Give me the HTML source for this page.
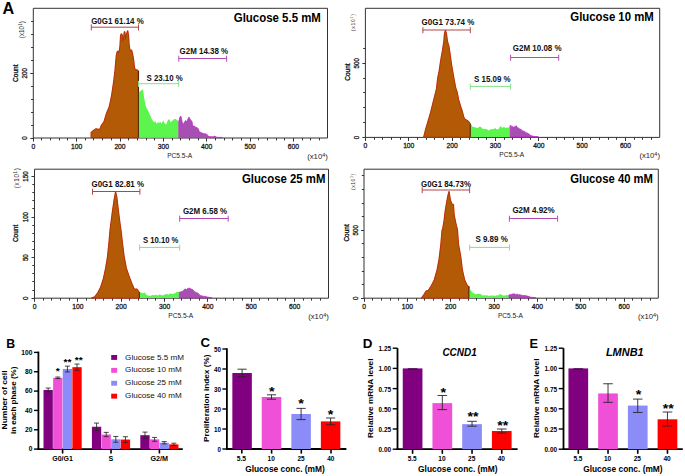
<!DOCTYPE html>
<html><head><meta charset="utf-8"><style>
html,body{margin:0;padding:0;background:#fff;}
svg{display:block;font-family:"Liberation Sans", sans-serif;}
</style></head><body>
<svg width="685" height="476" viewBox="0 0 685 476">
<rect width="685" height="476" fill="#fff"/>
<path d="M33.3,138 L33.3,8.3 L327.5,8.3 L327.5,138 Z" fill="none" stroke="#333" stroke-width="1"/>
<line x1="33.5" y1="138" x2="33.5" y2="141.6" stroke="#333" stroke-width="1" />
<text x="33.3" y="149" font-size="7" font-weight="normal" text-anchor="middle" fill="#1a1a1a" stroke="#1a1a1a" stroke-width="0.3" textLength="3.75" lengthAdjust="spacingAndGlyphs">0</text>
<line x1="41.5" y1="138" x2="41.5" y2="140.4" stroke="#333" stroke-width="1" />
<line x1="50.5" y1="138" x2="50.5" y2="140.4" stroke="#333" stroke-width="1" />
<line x1="59.5" y1="138" x2="59.5" y2="140.4" stroke="#333" stroke-width="1" />
<line x1="67.5" y1="138" x2="67.5" y2="140.4" stroke="#333" stroke-width="1" />
<line x1="76.5" y1="138" x2="76.5" y2="141.6" stroke="#333" stroke-width="1" />
<text x="76.65" y="149" font-size="7" font-weight="normal" text-anchor="middle" fill="#1a1a1a" stroke="#1a1a1a" stroke-width="0.3" textLength="11.25" lengthAdjust="spacingAndGlyphs">100</text>
<line x1="85.5" y1="138" x2="85.5" y2="140.4" stroke="#333" stroke-width="1" />
<line x1="93.5" y1="138" x2="93.5" y2="140.4" stroke="#333" stroke-width="1" />
<line x1="102.5" y1="138" x2="102.5" y2="140.4" stroke="#333" stroke-width="1" />
<line x1="111.5" y1="138" x2="111.5" y2="140.4" stroke="#333" stroke-width="1" />
<line x1="120.5" y1="138" x2="120.5" y2="141.6" stroke="#333" stroke-width="1" />
<text x="120" y="149" font-size="7" font-weight="normal" text-anchor="middle" fill="#1a1a1a" stroke="#1a1a1a" stroke-width="0.3" textLength="11.25" lengthAdjust="spacingAndGlyphs">200</text>
<line x1="128.5" y1="138" x2="128.5" y2="140.4" stroke="#333" stroke-width="1" />
<line x1="137.5" y1="138" x2="137.5" y2="140.4" stroke="#333" stroke-width="1" />
<line x1="146.5" y1="138" x2="146.5" y2="140.4" stroke="#333" stroke-width="1" />
<line x1="154.5" y1="138" x2="154.5" y2="140.4" stroke="#333" stroke-width="1" />
<line x1="163.5" y1="138" x2="163.5" y2="141.6" stroke="#333" stroke-width="1" />
<text x="163.35" y="149" font-size="7" font-weight="normal" text-anchor="middle" fill="#1a1a1a" stroke="#1a1a1a" stroke-width="0.3" textLength="11.25" lengthAdjust="spacingAndGlyphs">300</text>
<line x1="172.5" y1="138" x2="172.5" y2="140.4" stroke="#333" stroke-width="1" />
<line x1="180.5" y1="138" x2="180.5" y2="140.4" stroke="#333" stroke-width="1" />
<line x1="189.5" y1="138" x2="189.5" y2="140.4" stroke="#333" stroke-width="1" />
<line x1="198.5" y1="138" x2="198.5" y2="140.4" stroke="#333" stroke-width="1" />
<line x1="206.5" y1="138" x2="206.5" y2="141.6" stroke="#333" stroke-width="1" />
<text x="206.7" y="149" font-size="7" font-weight="normal" text-anchor="middle" fill="#1a1a1a" stroke="#1a1a1a" stroke-width="0.3" textLength="11.25" lengthAdjust="spacingAndGlyphs">400</text>
<line x1="215.5" y1="138" x2="215.5" y2="140.4" stroke="#333" stroke-width="1" />
<line x1="224.5" y1="138" x2="224.5" y2="140.4" stroke="#333" stroke-width="1" />
<line x1="232.5" y1="138" x2="232.5" y2="140.4" stroke="#333" stroke-width="1" />
<line x1="241.5" y1="138" x2="241.5" y2="140.4" stroke="#333" stroke-width="1" />
<line x1="250.5" y1="138" x2="250.5" y2="141.6" stroke="#333" stroke-width="1" />
<text x="250.05" y="149" font-size="7" font-weight="normal" text-anchor="middle" fill="#1a1a1a" stroke="#1a1a1a" stroke-width="0.3" textLength="11.25" lengthAdjust="spacingAndGlyphs">500</text>
<line x1="258.5" y1="138" x2="258.5" y2="140.4" stroke="#333" stroke-width="1" />
<line x1="267.5" y1="138" x2="267.5" y2="140.4" stroke="#333" stroke-width="1" />
<line x1="276.5" y1="138" x2="276.5" y2="140.4" stroke="#333" stroke-width="1" />
<line x1="284.5" y1="138" x2="284.5" y2="140.4" stroke="#333" stroke-width="1" />
<line x1="293.5" y1="138" x2="293.5" y2="141.6" stroke="#333" stroke-width="1" />
<text x="293.4" y="149" font-size="7" font-weight="normal" text-anchor="middle" fill="#1a1a1a" stroke="#1a1a1a" stroke-width="0.3" textLength="11.25" lengthAdjust="spacingAndGlyphs">600</text>
<line x1="302.5" y1="138" x2="302.5" y2="140.4" stroke="#333" stroke-width="1" />
<line x1="310.5" y1="138" x2="310.5" y2="140.4" stroke="#333" stroke-width="1" />
<line x1="319.5" y1="138" x2="319.5" y2="140.4" stroke="#333" stroke-width="1" />
<line x1="30.3" y1="138.5" x2="33.3" y2="138.5" stroke="#333" stroke-width="1" />
<text x="27.1" y="138" font-size="7" font-weight="normal" text-anchor="middle" fill="#1a1a1a" stroke="#1a1a1a" stroke-width="0.3" transform="rotate(-90 27.1 138)" textLength="3.45" lengthAdjust="spacingAndGlyphs">0</text>
<line x1="31.1" y1="125.5" x2="33.3" y2="125.5" stroke="#333" stroke-width="1" />
<line x1="31.1" y1="112.5" x2="33.3" y2="112.5" stroke="#333" stroke-width="1" />
<line x1="31.1" y1="99.5" x2="33.3" y2="99.5" stroke="#333" stroke-width="1" />
<line x1="31.1" y1="86.5" x2="33.3" y2="86.5" stroke="#333" stroke-width="1" />
<line x1="30.3" y1="73.5" x2="33.3" y2="73.5" stroke="#333" stroke-width="1" />
<text x="27.1" y="73.2" font-size="7" font-weight="normal" text-anchor="middle" fill="#1a1a1a" stroke="#1a1a1a" stroke-width="0.3" transform="rotate(-90 27.1 73.2)" textLength="10.35" lengthAdjust="spacingAndGlyphs">200</text>
<line x1="31.1" y1="60.5" x2="33.3" y2="60.5" stroke="#333" stroke-width="1" />
<line x1="31.1" y1="47.5" x2="33.3" y2="47.5" stroke="#333" stroke-width="1" />
<line x1="31.1" y1="34.5" x2="33.3" y2="34.5" stroke="#333" stroke-width="1" />
<line x1="31.1" y1="21.5" x2="33.3" y2="21.5" stroke="#333" stroke-width="1" />
<text x="179.6" y="157.5" font-size="6.6" font-weight="normal" text-anchor="middle" fill="#222">PC5.5-A</text>
<text x="327.8" y="158.8" font-size="6.4" font-weight="normal" text-anchor="end" fill="#222" textLength="20.6" lengthAdjust="spacingAndGlyphs">(x10<tspan dy="-2.2" font-size="4.5">4</tspan><tspan dy="2.2">)</tspan></text>
<text x="18.1" y="73.2" font-size="7.3" font-weight="normal" text-anchor="middle" fill="#111" stroke="#111" stroke-width="0.3" transform="rotate(-90 18.1 73.2)" textLength="17.4" lengthAdjust="spacingAndGlyphs">Count</text>
<text x="24.2" y="29.7" font-size="6.3" font-weight="normal" text-anchor="middle" fill="#333" transform="rotate(-90 24.2 29.7)" textLength="17" lengthAdjust="spacing">(x10<tspan dy="-2.2" font-size="4.5">1</tspan><tspan dy="2.2">)</tspan></text>
<text x="320.9" y="21.9" font-size="12" font-weight="bold" text-anchor="end" fill="#000" textLength="87.1" lengthAdjust="spacingAndGlyphs">Glucose 5.5 mM</text>
<path d="M365.4,137.4 L365.4,8.3 L659.7,8.3 L659.7,137.4 Z" fill="none" stroke="#333" stroke-width="1"/>
<line x1="365.5" y1="137.4" x2="365.5" y2="141" stroke="#333" stroke-width="1" />
<text x="365.4" y="148.4" font-size="7" font-weight="normal" text-anchor="middle" fill="#1a1a1a" stroke="#1a1a1a" stroke-width="0.3" textLength="3.75" lengthAdjust="spacingAndGlyphs">0</text>
<line x1="374.5" y1="137.4" x2="374.5" y2="139.8" stroke="#333" stroke-width="1" />
<line x1="382.5" y1="137.4" x2="382.5" y2="139.8" stroke="#333" stroke-width="1" />
<line x1="391.5" y1="137.4" x2="391.5" y2="139.8" stroke="#333" stroke-width="1" />
<line x1="400.5" y1="137.4" x2="400.5" y2="139.8" stroke="#333" stroke-width="1" />
<line x1="408.5" y1="137.4" x2="408.5" y2="141" stroke="#333" stroke-width="1" />
<text x="408.75" y="148.4" font-size="7" font-weight="normal" text-anchor="middle" fill="#1a1a1a" stroke="#1a1a1a" stroke-width="0.3" textLength="11.25" lengthAdjust="spacingAndGlyphs">100</text>
<line x1="417.5" y1="137.4" x2="417.5" y2="139.8" stroke="#333" stroke-width="1" />
<line x1="426.5" y1="137.4" x2="426.5" y2="139.8" stroke="#333" stroke-width="1" />
<line x1="434.5" y1="137.4" x2="434.5" y2="139.8" stroke="#333" stroke-width="1" />
<line x1="443.5" y1="137.4" x2="443.5" y2="139.8" stroke="#333" stroke-width="1" />
<line x1="452.5" y1="137.4" x2="452.5" y2="141" stroke="#333" stroke-width="1" />
<text x="452.1" y="148.4" font-size="7" font-weight="normal" text-anchor="middle" fill="#1a1a1a" stroke="#1a1a1a" stroke-width="0.3" textLength="11.25" lengthAdjust="spacingAndGlyphs">200</text>
<line x1="460.5" y1="137.4" x2="460.5" y2="139.8" stroke="#333" stroke-width="1" />
<line x1="469.5" y1="137.4" x2="469.5" y2="139.8" stroke="#333" stroke-width="1" />
<line x1="478.5" y1="137.4" x2="478.5" y2="139.8" stroke="#333" stroke-width="1" />
<line x1="486.5" y1="137.4" x2="486.5" y2="139.8" stroke="#333" stroke-width="1" />
<line x1="495.5" y1="137.4" x2="495.5" y2="141" stroke="#333" stroke-width="1" />
<text x="495.45" y="148.4" font-size="7" font-weight="normal" text-anchor="middle" fill="#1a1a1a" stroke="#1a1a1a" stroke-width="0.3" textLength="11.25" lengthAdjust="spacingAndGlyphs">300</text>
<line x1="504.5" y1="137.4" x2="504.5" y2="139.8" stroke="#333" stroke-width="1" />
<line x1="512.5" y1="137.4" x2="512.5" y2="139.8" stroke="#333" stroke-width="1" />
<line x1="521.5" y1="137.4" x2="521.5" y2="139.8" stroke="#333" stroke-width="1" />
<line x1="530.5" y1="137.4" x2="530.5" y2="139.8" stroke="#333" stroke-width="1" />
<line x1="538.5" y1="137.4" x2="538.5" y2="141" stroke="#333" stroke-width="1" />
<text x="538.8" y="148.4" font-size="7" font-weight="normal" text-anchor="middle" fill="#1a1a1a" stroke="#1a1a1a" stroke-width="0.3" textLength="11.25" lengthAdjust="spacingAndGlyphs">400</text>
<line x1="547.5" y1="137.4" x2="547.5" y2="139.8" stroke="#333" stroke-width="1" />
<line x1="556.5" y1="137.4" x2="556.5" y2="139.8" stroke="#333" stroke-width="1" />
<line x1="564.5" y1="137.4" x2="564.5" y2="139.8" stroke="#333" stroke-width="1" />
<line x1="573.5" y1="137.4" x2="573.5" y2="139.8" stroke="#333" stroke-width="1" />
<line x1="582.5" y1="137.4" x2="582.5" y2="141" stroke="#333" stroke-width="1" />
<text x="582.15" y="148.4" font-size="7" font-weight="normal" text-anchor="middle" fill="#1a1a1a" stroke="#1a1a1a" stroke-width="0.3" textLength="11.25" lengthAdjust="spacingAndGlyphs">500</text>
<line x1="590.5" y1="137.4" x2="590.5" y2="139.8" stroke="#333" stroke-width="1" />
<line x1="599.5" y1="137.4" x2="599.5" y2="139.8" stroke="#333" stroke-width="1" />
<line x1="608.5" y1="137.4" x2="608.5" y2="139.8" stroke="#333" stroke-width="1" />
<line x1="616.5" y1="137.4" x2="616.5" y2="139.8" stroke="#333" stroke-width="1" />
<line x1="625.5" y1="137.4" x2="625.5" y2="141" stroke="#333" stroke-width="1" />
<text x="625.5" y="148.4" font-size="7" font-weight="normal" text-anchor="middle" fill="#1a1a1a" stroke="#1a1a1a" stroke-width="0.3" textLength="11.25" lengthAdjust="spacingAndGlyphs">600</text>
<line x1="634.5" y1="137.4" x2="634.5" y2="139.8" stroke="#333" stroke-width="1" />
<line x1="642.5" y1="137.4" x2="642.5" y2="139.8" stroke="#333" stroke-width="1" />
<line x1="651.5" y1="137.4" x2="651.5" y2="139.8" stroke="#333" stroke-width="1" />
<line x1="362.4" y1="137.5" x2="365.4" y2="137.5" stroke="#333" stroke-width="1" />
<text x="358.7" y="137.4" font-size="7" font-weight="normal" text-anchor="middle" fill="#1a1a1a" stroke="#1a1a1a" stroke-width="0.3" transform="rotate(-90 358.7 137.4)" textLength="3.45" lengthAdjust="spacingAndGlyphs">0</text>
<line x1="363.2" y1="122.5" x2="365.4" y2="122.5" stroke="#333" stroke-width="1" />
<line x1="363.2" y1="107.5" x2="365.4" y2="107.5" stroke="#333" stroke-width="1" />
<line x1="363.2" y1="92.5" x2="365.4" y2="92.5" stroke="#333" stroke-width="1" />
<line x1="363.2" y1="78.5" x2="365.4" y2="78.5" stroke="#333" stroke-width="1" />
<line x1="362.4" y1="63.5" x2="365.4" y2="63.5" stroke="#333" stroke-width="1" />
<text x="358.7" y="63.3" font-size="7" font-weight="normal" text-anchor="middle" fill="#1a1a1a" stroke="#1a1a1a" stroke-width="0.3" transform="rotate(-90 358.7 63.3)" textLength="10.35" lengthAdjust="spacingAndGlyphs">500</text>
<line x1="363.2" y1="48.5" x2="365.4" y2="48.5" stroke="#333" stroke-width="1" />
<text x="511.75" y="156.9" font-size="6.6" font-weight="normal" text-anchor="middle" fill="#222">PC5.5-A</text>
<text x="660" y="158.2" font-size="6.4" font-weight="normal" text-anchor="end" fill="#222" textLength="20.6" lengthAdjust="spacingAndGlyphs">(x10<tspan dy="-2.2" font-size="4.5">4</tspan><tspan dy="2.2">)</tspan></text>
<text x="350.2" y="72.1" font-size="7.3" font-weight="normal" text-anchor="middle" fill="#111" stroke="#111" stroke-width="0.3" transform="rotate(-90 350.2 72.1)" textLength="17.4" lengthAdjust="spacingAndGlyphs">Count</text>
<text x="355.3" y="22.6" font-size="5" font-weight="normal" text-anchor="middle" fill="#333" transform="rotate(-90 355.3 22.6)" textLength="17.2" lengthAdjust="spacing">(x10<tspan dy="-2.2" font-size="3.6">1</tspan><tspan dy="2.2">)</tspan></text>
<text x="653.8" y="21.4" font-size="12" font-weight="bold" text-anchor="end" fill="#000" textLength="83.5" lengthAdjust="spacingAndGlyphs">Glucose 10 mM</text>
<path d="M34.5,298.2 L34.5,169.2 L328.5,169.2 L328.5,298.2 Z" fill="none" stroke="#333" stroke-width="1"/>
<line x1="34.5" y1="298.2" x2="34.5" y2="301.8" stroke="#333" stroke-width="1" />
<text x="34.5" y="309.2" font-size="7" font-weight="normal" text-anchor="middle" fill="#1a1a1a" stroke="#1a1a1a" stroke-width="0.3" textLength="3.75" lengthAdjust="spacingAndGlyphs">0</text>
<line x1="43.5" y1="298.2" x2="43.5" y2="300.6" stroke="#333" stroke-width="1" />
<line x1="51.5" y1="298.2" x2="51.5" y2="300.6" stroke="#333" stroke-width="1" />
<line x1="60.5" y1="298.2" x2="60.5" y2="300.6" stroke="#333" stroke-width="1" />
<line x1="69.5" y1="298.2" x2="69.5" y2="300.6" stroke="#333" stroke-width="1" />
<line x1="77.5" y1="298.2" x2="77.5" y2="301.8" stroke="#333" stroke-width="1" />
<text x="77.85" y="309.2" font-size="7" font-weight="normal" text-anchor="middle" fill="#1a1a1a" stroke="#1a1a1a" stroke-width="0.3" textLength="11.25" lengthAdjust="spacingAndGlyphs">100</text>
<line x1="86.5" y1="298.2" x2="86.5" y2="300.6" stroke="#333" stroke-width="1" />
<line x1="95.5" y1="298.2" x2="95.5" y2="300.6" stroke="#333" stroke-width="1" />
<line x1="103.5" y1="298.2" x2="103.5" y2="300.6" stroke="#333" stroke-width="1" />
<line x1="112.5" y1="298.2" x2="112.5" y2="300.6" stroke="#333" stroke-width="1" />
<line x1="121.5" y1="298.2" x2="121.5" y2="301.8" stroke="#333" stroke-width="1" />
<text x="121.2" y="309.2" font-size="7" font-weight="normal" text-anchor="middle" fill="#1a1a1a" stroke="#1a1a1a" stroke-width="0.3" textLength="11.25" lengthAdjust="spacingAndGlyphs">200</text>
<line x1="129.5" y1="298.2" x2="129.5" y2="300.6" stroke="#333" stroke-width="1" />
<line x1="138.5" y1="298.2" x2="138.5" y2="300.6" stroke="#333" stroke-width="1" />
<line x1="147.5" y1="298.2" x2="147.5" y2="300.6" stroke="#333" stroke-width="1" />
<line x1="155.5" y1="298.2" x2="155.5" y2="300.6" stroke="#333" stroke-width="1" />
<line x1="164.5" y1="298.2" x2="164.5" y2="301.8" stroke="#333" stroke-width="1" />
<text x="164.55" y="309.2" font-size="7" font-weight="normal" text-anchor="middle" fill="#1a1a1a" stroke="#1a1a1a" stroke-width="0.3" textLength="11.25" lengthAdjust="spacingAndGlyphs">300</text>
<line x1="173.5" y1="298.2" x2="173.5" y2="300.6" stroke="#333" stroke-width="1" />
<line x1="181.5" y1="298.2" x2="181.5" y2="300.6" stroke="#333" stroke-width="1" />
<line x1="190.5" y1="298.2" x2="190.5" y2="300.6" stroke="#333" stroke-width="1" />
<line x1="199.5" y1="298.2" x2="199.5" y2="300.6" stroke="#333" stroke-width="1" />
<line x1="207.5" y1="298.2" x2="207.5" y2="301.8" stroke="#333" stroke-width="1" />
<text x="207.9" y="309.2" font-size="7" font-weight="normal" text-anchor="middle" fill="#1a1a1a" stroke="#1a1a1a" stroke-width="0.3" textLength="11.25" lengthAdjust="spacingAndGlyphs">400</text>
<line x1="216.5" y1="298.2" x2="216.5" y2="300.6" stroke="#333" stroke-width="1" />
<line x1="225.5" y1="298.2" x2="225.5" y2="300.6" stroke="#333" stroke-width="1" />
<line x1="233.5" y1="298.2" x2="233.5" y2="300.6" stroke="#333" stroke-width="1" />
<line x1="242.5" y1="298.2" x2="242.5" y2="300.6" stroke="#333" stroke-width="1" />
<line x1="251.5" y1="298.2" x2="251.5" y2="301.8" stroke="#333" stroke-width="1" />
<text x="251.25" y="309.2" font-size="7" font-weight="normal" text-anchor="middle" fill="#1a1a1a" stroke="#1a1a1a" stroke-width="0.3" textLength="11.25" lengthAdjust="spacingAndGlyphs">500</text>
<line x1="259.5" y1="298.2" x2="259.5" y2="300.6" stroke="#333" stroke-width="1" />
<line x1="268.5" y1="298.2" x2="268.5" y2="300.6" stroke="#333" stroke-width="1" />
<line x1="277.5" y1="298.2" x2="277.5" y2="300.6" stroke="#333" stroke-width="1" />
<line x1="285.5" y1="298.2" x2="285.5" y2="300.6" stroke="#333" stroke-width="1" />
<line x1="294.5" y1="298.2" x2="294.5" y2="301.8" stroke="#333" stroke-width="1" />
<text x="294.6" y="309.2" font-size="7" font-weight="normal" text-anchor="middle" fill="#1a1a1a" stroke="#1a1a1a" stroke-width="0.3" textLength="11.25" lengthAdjust="spacingAndGlyphs">600</text>
<line x1="303.5" y1="298.2" x2="303.5" y2="300.6" stroke="#333" stroke-width="1" />
<line x1="311.5" y1="298.2" x2="311.5" y2="300.6" stroke="#333" stroke-width="1" />
<line x1="320.5" y1="298.2" x2="320.5" y2="300.6" stroke="#333" stroke-width="1" />
<line x1="31.5" y1="298.5" x2="34.5" y2="298.5" stroke="#333" stroke-width="1" />
<text x="28" y="298.2" font-size="7" font-weight="normal" text-anchor="middle" fill="#1a1a1a" stroke="#1a1a1a" stroke-width="0.3" transform="rotate(-90 28 298.2)" textLength="3.45" lengthAdjust="spacingAndGlyphs">0</text>
<line x1="32.3" y1="290.5" x2="34.5" y2="290.5" stroke="#333" stroke-width="1" />
<line x1="32.3" y1="281.5" x2="34.5" y2="281.5" stroke="#333" stroke-width="1" />
<line x1="32.3" y1="273.5" x2="34.5" y2="273.5" stroke="#333" stroke-width="1" />
<line x1="32.3" y1="265.5" x2="34.5" y2="265.5" stroke="#333" stroke-width="1" />
<line x1="31.5" y1="257.5" x2="34.5" y2="257.5" stroke="#333" stroke-width="1" />
<text x="28" y="257.65" font-size="7" font-weight="normal" text-anchor="middle" fill="#1a1a1a" stroke="#1a1a1a" stroke-width="0.3" transform="rotate(-90 28 257.65)" textLength="6.9" lengthAdjust="spacingAndGlyphs">50</text>
<line x1="32.3" y1="249.5" x2="34.5" y2="249.5" stroke="#333" stroke-width="1" />
<line x1="32.3" y1="241.5" x2="34.5" y2="241.5" stroke="#333" stroke-width="1" />
<line x1="32.3" y1="233.5" x2="34.5" y2="233.5" stroke="#333" stroke-width="1" />
<line x1="32.3" y1="225.5" x2="34.5" y2="225.5" stroke="#333" stroke-width="1" />
<line x1="31.5" y1="217.5" x2="34.5" y2="217.5" stroke="#333" stroke-width="1" />
<text x="28" y="217.1" font-size="7" font-weight="normal" text-anchor="middle" fill="#1a1a1a" stroke="#1a1a1a" stroke-width="0.3" transform="rotate(-90 28 217.1)" textLength="10.35" lengthAdjust="spacingAndGlyphs">100</text>
<line x1="32.3" y1="208.5" x2="34.5" y2="208.5" stroke="#333" stroke-width="1" />
<line x1="32.3" y1="200.5" x2="34.5" y2="200.5" stroke="#333" stroke-width="1" />
<line x1="32.3" y1="192.5" x2="34.5" y2="192.5" stroke="#333" stroke-width="1" />
<line x1="32.3" y1="184.5" x2="34.5" y2="184.5" stroke="#333" stroke-width="1" />
<line x1="31.5" y1="176.5" x2="34.5" y2="176.5" stroke="#333" stroke-width="1" />
<text x="28" y="176.55" font-size="7" font-weight="normal" text-anchor="middle" fill="#1a1a1a" stroke="#1a1a1a" stroke-width="0.3" transform="rotate(-90 28 176.55)" textLength="10.35" lengthAdjust="spacingAndGlyphs">150</text>
<text x="180.7" y="317.7" font-size="6.6" font-weight="normal" text-anchor="middle" fill="#222">PC5.5-A</text>
<text x="328.8" y="319" font-size="6.4" font-weight="normal" text-anchor="end" fill="#222" textLength="20.6" lengthAdjust="spacingAndGlyphs">(x10<tspan dy="-2.2" font-size="4.5">4</tspan><tspan dy="2.2">)</tspan></text>
<text x="18.2" y="233.4" font-size="7.3" font-weight="normal" text-anchor="middle" fill="#111" stroke="#111" stroke-width="0.3" transform="rotate(-90 18.2 233.4)" textLength="17.4" lengthAdjust="spacingAndGlyphs">Count</text>
<text x="18.7" y="178.2" font-size="6.3" font-weight="normal" text-anchor="middle" fill="#333" transform="rotate(-90 18.7 178.2)" textLength="20.2" lengthAdjust="spacing">(x10<tspan dy="-2.2" font-size="4.5">1</tspan><tspan dy="2.2">)</tspan></text>
<text x="325.4" y="182.7" font-size="12" font-weight="bold" text-anchor="end" fill="#000" textLength="83.5" lengthAdjust="spacingAndGlyphs">Glucose 25 mM</text>
<path d="M364,298.2 L364,169.2 L658.3,169.2 L658.3,298.2 Z" fill="none" stroke="#333" stroke-width="1"/>
<line x1="364.5" y1="298.2" x2="364.5" y2="301.8" stroke="#333" stroke-width="1" />
<text x="364" y="309.2" font-size="7" font-weight="normal" text-anchor="middle" fill="#1a1a1a" stroke="#1a1a1a" stroke-width="0.3" textLength="3.75" lengthAdjust="spacingAndGlyphs">0</text>
<line x1="372.5" y1="298.2" x2="372.5" y2="300.6" stroke="#333" stroke-width="1" />
<line x1="381.5" y1="298.2" x2="381.5" y2="300.6" stroke="#333" stroke-width="1" />
<line x1="390.5" y1="298.2" x2="390.5" y2="300.6" stroke="#333" stroke-width="1" />
<line x1="398.5" y1="298.2" x2="398.5" y2="300.6" stroke="#333" stroke-width="1" />
<line x1="407.5" y1="298.2" x2="407.5" y2="301.8" stroke="#333" stroke-width="1" />
<text x="407.35" y="309.2" font-size="7" font-weight="normal" text-anchor="middle" fill="#1a1a1a" stroke="#1a1a1a" stroke-width="0.3" textLength="11.25" lengthAdjust="spacingAndGlyphs">100</text>
<line x1="416.5" y1="298.2" x2="416.5" y2="300.6" stroke="#333" stroke-width="1" />
<line x1="424.5" y1="298.2" x2="424.5" y2="300.6" stroke="#333" stroke-width="1" />
<line x1="433.5" y1="298.2" x2="433.5" y2="300.6" stroke="#333" stroke-width="1" />
<line x1="442.5" y1="298.2" x2="442.5" y2="300.6" stroke="#333" stroke-width="1" />
<line x1="450.5" y1="298.2" x2="450.5" y2="301.8" stroke="#333" stroke-width="1" />
<text x="450.7" y="309.2" font-size="7" font-weight="normal" text-anchor="middle" fill="#1a1a1a" stroke="#1a1a1a" stroke-width="0.3" textLength="11.25" lengthAdjust="spacingAndGlyphs">200</text>
<line x1="459.5" y1="298.2" x2="459.5" y2="300.6" stroke="#333" stroke-width="1" />
<line x1="468.5" y1="298.2" x2="468.5" y2="300.6" stroke="#333" stroke-width="1" />
<line x1="476.5" y1="298.2" x2="476.5" y2="300.6" stroke="#333" stroke-width="1" />
<line x1="485.5" y1="298.2" x2="485.5" y2="300.6" stroke="#333" stroke-width="1" />
<line x1="494.5" y1="298.2" x2="494.5" y2="301.8" stroke="#333" stroke-width="1" />
<text x="494.05" y="309.2" font-size="7" font-weight="normal" text-anchor="middle" fill="#1a1a1a" stroke="#1a1a1a" stroke-width="0.3" textLength="11.25" lengthAdjust="spacingAndGlyphs">300</text>
<line x1="502.5" y1="298.2" x2="502.5" y2="300.6" stroke="#333" stroke-width="1" />
<line x1="511.5" y1="298.2" x2="511.5" y2="300.6" stroke="#333" stroke-width="1" />
<line x1="520.5" y1="298.2" x2="520.5" y2="300.6" stroke="#333" stroke-width="1" />
<line x1="528.5" y1="298.2" x2="528.5" y2="300.6" stroke="#333" stroke-width="1" />
<line x1="537.5" y1="298.2" x2="537.5" y2="301.8" stroke="#333" stroke-width="1" />
<text x="537.4" y="309.2" font-size="7" font-weight="normal" text-anchor="middle" fill="#1a1a1a" stroke="#1a1a1a" stroke-width="0.3" textLength="11.25" lengthAdjust="spacingAndGlyphs">400</text>
<line x1="546.5" y1="298.2" x2="546.5" y2="300.6" stroke="#333" stroke-width="1" />
<line x1="554.5" y1="298.2" x2="554.5" y2="300.6" stroke="#333" stroke-width="1" />
<line x1="563.5" y1="298.2" x2="563.5" y2="300.6" stroke="#333" stroke-width="1" />
<line x1="572.5" y1="298.2" x2="572.5" y2="300.6" stroke="#333" stroke-width="1" />
<line x1="580.5" y1="298.2" x2="580.5" y2="301.8" stroke="#333" stroke-width="1" />
<text x="580.75" y="309.2" font-size="7" font-weight="normal" text-anchor="middle" fill="#1a1a1a" stroke="#1a1a1a" stroke-width="0.3" textLength="11.25" lengthAdjust="spacingAndGlyphs">500</text>
<line x1="589.5" y1="298.2" x2="589.5" y2="300.6" stroke="#333" stroke-width="1" />
<line x1="598.5" y1="298.2" x2="598.5" y2="300.6" stroke="#333" stroke-width="1" />
<line x1="606.5" y1="298.2" x2="606.5" y2="300.6" stroke="#333" stroke-width="1" />
<line x1="615.5" y1="298.2" x2="615.5" y2="300.6" stroke="#333" stroke-width="1" />
<line x1="624.5" y1="298.2" x2="624.5" y2="301.8" stroke="#333" stroke-width="1" />
<text x="624.1" y="309.2" font-size="7" font-weight="normal" text-anchor="middle" fill="#1a1a1a" stroke="#1a1a1a" stroke-width="0.3" textLength="11.25" lengthAdjust="spacingAndGlyphs">600</text>
<line x1="632.5" y1="298.2" x2="632.5" y2="300.6" stroke="#333" stroke-width="1" />
<line x1="641.5" y1="298.2" x2="641.5" y2="300.6" stroke="#333" stroke-width="1" />
<line x1="650.5" y1="298.2" x2="650.5" y2="300.6" stroke="#333" stroke-width="1" />
<line x1="361" y1="298.5" x2="364" y2="298.5" stroke="#333" stroke-width="1" />
<text x="357.6" y="298.2" font-size="7" font-weight="normal" text-anchor="middle" fill="#1a1a1a" stroke="#1a1a1a" stroke-width="0.3" transform="rotate(-90 357.6 298.2)" textLength="3.45" lengthAdjust="spacingAndGlyphs">0</text>
<line x1="361.8" y1="284.5" x2="364" y2="284.5" stroke="#333" stroke-width="1" />
<line x1="361.8" y1="271.5" x2="364" y2="271.5" stroke="#333" stroke-width="1" />
<line x1="361.8" y1="257.5" x2="364" y2="257.5" stroke="#333" stroke-width="1" />
<line x1="361.8" y1="243.5" x2="364" y2="243.5" stroke="#333" stroke-width="1" />
<line x1="361" y1="230.5" x2="364" y2="230.5" stroke="#333" stroke-width="1" />
<text x="357.6" y="230.3" font-size="7" font-weight="normal" text-anchor="middle" fill="#1a1a1a" stroke="#1a1a1a" stroke-width="0.3" transform="rotate(-90 357.6 230.3)" textLength="10.35" lengthAdjust="spacingAndGlyphs">500</text>
<line x1="361.8" y1="216.5" x2="364" y2="216.5" stroke="#333" stroke-width="1" />
<line x1="361.8" y1="203.5" x2="364" y2="203.5" stroke="#333" stroke-width="1" />
<line x1="361.8" y1="189.5" x2="364" y2="189.5" stroke="#333" stroke-width="1" />
<line x1="361.8" y1="175.5" x2="364" y2="175.5" stroke="#333" stroke-width="1" />
<text x="510.35" y="317.7" font-size="6.6" font-weight="normal" text-anchor="middle" fill="#222">PC5.5-A</text>
<text x="658.6" y="319" font-size="6.4" font-weight="normal" text-anchor="end" fill="#222" textLength="20.6" lengthAdjust="spacingAndGlyphs">(x10<tspan dy="-2.2" font-size="4.5">4</tspan><tspan dy="2.2">)</tspan></text>
<text x="349.1" y="232.9" font-size="7.3" font-weight="normal" text-anchor="middle" fill="#111" stroke="#111" stroke-width="0.3" transform="rotate(-90 349.1 232.9)" textLength="17.4" lengthAdjust="spacingAndGlyphs">Count</text>
<text x="355.3" y="181.9" font-size="5" font-weight="normal" text-anchor="middle" fill="#333" transform="rotate(-90 355.3 181.9)" textLength="16" lengthAdjust="spacing">(x10<tspan dy="-2.2" font-size="3.6">1</tspan><tspan dy="2.2">)</tspan></text>
<text x="653" y="182.7" font-size="12" font-weight="bold" text-anchor="end" fill="#000" textLength="82.7" lengthAdjust="spacingAndGlyphs">Glucose 40 mM</text>
<polygon points="91.2,137.6 91.2,132.5 93.8,130.3 96,128.8 99.7,129.6 101.2,125.9 104.1,121.5 106.3,114.1 109.3,106.8 111.5,96.5 113.7,81.8 115.1,70 115.6,63.8 116.4,55.4 117.2,51.8 118,51.2 118.5,52.8 119.3,51.2 120.1,45.5 120.6,35.5 121.4,33.9 122.2,35 122.7,41.3 123.5,39.7 124.3,31.8 124.8,31.8 125.3,39.7 126.1,35.5 126.9,32.9 127.7,30.8 128.5,35.5 129,43.9 129.8,49.7 130.6,50.7 131.6,50.2 132.4,53.3 133.2,57.5 133.7,60.7 134.2,65.9 134.8,69.1 135.8,69.6 137.4,70.1 138.4,71.2 138.4,137.6" fill="none" stroke="#e0280a" stroke-width="1.3" stroke-linejoin="round"/>
<polygon points="91.2,137.6 91.2,132.5 93.8,130.3 96,128.8 99.7,129.6 101.2,125.9 104.1,121.5 106.3,114.1 109.3,106.8 111.5,96.5 113.7,81.8 115.1,70 115.6,63.8 116.4,55.4 117.2,51.8 118,51.2 118.5,52.8 119.3,51.2 120.1,45.5 120.6,35.5 121.4,33.9 122.2,35 122.7,41.3 123.5,39.7 124.3,31.8 124.8,31.8 125.3,39.7 126.1,35.5 126.9,32.9 127.7,30.8 128.5,35.5 129,43.9 129.8,49.7 130.6,50.7 131.6,50.2 132.4,53.3 133.2,57.5 133.7,60.7 134.2,65.9 134.8,69.1 135.8,69.6 137.4,70.1 138.4,71.2 138.4,137.6" fill="#b25a06" stroke="#7a2a08" stroke-width="0.3" stroke-linejoin="round"/>
<polygon points="138.5,137.6 138.5,92 139.4,91.9 140.8,90.8 142.2,89.4 143.1,90.2 144,96.5 145.4,104.6 146.5,108.1 147.4,109.3 148.3,111 149.4,113.9 150.3,115.41 151.2,117.9 152.05,119.56 152.9,120.8 154.1,122.5 155.2,120.8 156.4,123.7 157.5,122.5 158.35,122.2 159.2,123.1 160.4,121.7 161.6,123.7 162.45,122 163.3,120.2 164.4,123.1 165.3,123.76 166.2,124.8 167.05,121.88 167.9,120.2 169.1,119.1 169.95,120.81 170.8,122.5 171.65,121 172.5,120.8 173.4,119.86 174.3,119.1 175.15,118.75 176,119.6 176.85,119.63 177.7,120.8 178.7,122 178.7,137.6" fill="#5cf54e"/>
<polygon points="178.8,137.6 178.8,121 180,116.8 181,116.3 182.1,121.5 183.1,124.7 184.2,122.6 185.6,120.5 186.6,122.1 187.7,119.4 188.9,117.1 190,118.9 191,120.5 192.1,121.5 192.6,125.8 193.65,125.97 194.7,126.3 195.5,127.13 196.3,127.3 197.35,127.72 198.4,128.9 199.4,132.1 200.2,132.07 201,132.6 201.8,132.98 202.6,133.1 203.65,133.8 204.7,133.6 205.75,133.98 206.8,134.2 207.6,135.17 208.4,136.3 209.32,136.61 210.25,136.39 211.18,136.79 212.1,136.8 212.88,136.61 213.65,136.43 214.42,136.28 215.2,136.3 216,136.75 216.8,137.3 217.63,137.34 218.46,137.3 219.29,137.35 220.11,137.37 220.94,137.36 221.77,137.39 222.6,137.4 222.6,137.6" fill="#a84fb4" stroke="#c21fc6" stroke-width="0.7" stroke-linejoin="round"/>
<line x1="138.4" y1="137.6" x2="138.4" y2="71.2" stroke="#4a1a08" stroke-width="0.9" />
<polygon points="423.6,137 423.6,137 424,136.2 425.4,130.3 427.6,122.9 430.6,112.6 433.5,100.9 436.5,89.1 437.8,77.9 439.1,71.6 440.4,62.8 441.4,56.5 442.6,50.2 443.9,41.4 444.5,33.8 445.4,30.3 446.4,33.8 447.4,41.4 448.9,46.4 450.2,55.2 451.4,64 452.7,71.6 454,79.2 455.6,87.6 457.1,92.1 458.5,99.4 460.7,106.8 462.2,111.2 463.7,117.1 465,119.3 467.3,120.5 469.1,122.3 470.3,124 470.3,137" fill="none" stroke="#e0280a" stroke-width="1.3" stroke-linejoin="round"/>
<polygon points="423.6,137 423.6,137 424,136.2 425.4,130.3 427.6,122.9 430.6,112.6 433.5,100.9 436.5,89.1 437.8,77.9 439.1,71.6 440.4,62.8 441.4,56.5 442.6,50.2 443.9,41.4 444.5,33.8 445.4,30.3 446.4,33.8 447.4,41.4 448.9,46.4 450.2,55.2 451.4,64 452.7,71.6 454,79.2 455.6,87.6 457.1,92.1 458.5,99.4 460.7,106.8 462.2,111.2 463.7,117.1 465,119.3 467.3,120.5 469.1,122.3 470.3,124 470.3,137" fill="#b25a06" stroke="#7a2a08" stroke-width="0.3" stroke-linejoin="round"/>
<polygon points="470.3,137 470.3,124 471.4,124.6 472.6,126.9 473.45,126.59 474.3,127.5 475.1,127.08 475.9,127.49 476.7,128.1 477.55,128.05 478.4,127.5 479.6,126.4 480.5,126.85 481.4,127.5 482.25,128.14 483.1,129.3 484,129.12 484.9,128.7 485.75,128.93 486.6,129.3 487.5,129.57 488.4,130.4 489.25,130.26 490.1,129.3 491.07,129.58 492.03,128.94 493,129.3 493.8,129 494.6,128.54 495.4,128.1 496.25,129.23 497.1,129.3 498,129.32 498.9,128.7 499.75,127.1 500.6,126.1 501.8,127.5 502.65,127.87 503.5,126.9 504.4,126.97 505.3,128.1 506.15,127.69 507,127.5 507.9,127.86 508.8,127.5 510.2,125.2 510.2,137" fill="#5cf54e"/>
<polygon points="510.3,137 510.3,125 511.7,126.4 512.6,126.5 513.5,127.3 514.35,126.84 515.2,126.4 516.4,125.8 517.6,128.1 518.45,127.94 519.3,128.7 520.2,129.17 521.1,129.3 521.95,130.41 522.8,131 523.7,131.22 524.6,131.3 525.45,132.43 526.3,132.8 527.2,132.91 528.1,133.4 529.2,134.3 530.1,135.04 531,135.5 531.77,135.81 532.53,136.06 533.3,136.3 534.12,136.35 534.94,136.49 535.76,136.56 536.58,136.54 537.4,136.6 538.6,137.1 538.6,137" fill="#a84fb4" stroke="#c21fc6" stroke-width="0.7" stroke-linejoin="round"/>
<line x1="470.3" y1="137" x2="470.3" y2="124" stroke="#4a1a08" stroke-width="0.9" />
<polygon points="91.8,297.9 91.8,298 94.7,296.9 97.6,293.2 100.6,287.4 103.5,278.5 105.7,268.2 107.6,256.5 109.1,241.8 110.1,230 110.9,223.8 112.4,212.1 114.1,200.3 115.6,191.8 116.8,197.4 118.5,212.1 120,223.8 120.9,230 122.6,244.7 124.1,256.5 126.3,268.2 129.3,277.1 132.2,284.4 134,288.5 135,289.6 136.2,289 137.3,289.6 138.5,291.4 139.4,292.5 139.4,297.9" fill="none" stroke="#e0280a" stroke-width="1.3" stroke-linejoin="round"/>
<polygon points="91.8,297.9 91.8,298 94.7,296.9 97.6,293.2 100.6,287.4 103.5,278.5 105.7,268.2 107.6,256.5 109.1,241.8 110.1,230 110.9,223.8 112.4,212.1 114.1,200.3 115.6,191.8 116.8,197.4 118.5,212.1 120,223.8 120.9,230 122.6,244.7 124.1,256.5 126.3,268.2 129.3,277.1 132.2,284.4 134,288.5 135,289.6 136.2,289 137.3,289.6 138.5,291.4 139.4,292.5 139.4,297.9" fill="#b25a06" stroke="#7a2a08" stroke-width="0.3" stroke-linejoin="round"/>
<polygon points="139.5,297.9 139.5,292.5 140.8,292.3 142,293.1 142.9,293.18 143.8,292.8 144.65,292.53 145.5,293.5 146.7,294.9 147.55,295.41 148.4,295.4 149.15,295.57 149.9,295.98 150.65,295.78 151.4,295.4 152.28,295.07 153.15,295.11 154.03,295.39 154.9,295.1 155.87,294.6 156.83,295.25 157.8,295.4 158.57,294.82 159.33,294.56 160.1,294.9 161,294.58 161.9,295.4 162.87,295.57 163.83,294.58 164.8,294.9 165.65,294.05 166.5,293.9 167.3,293.88 168.1,294.69 168.9,294.3 169.67,293.51 170.43,293.83 171.2,293.7 171.97,293.7 172.73,294.1 173.5,293.5 174.3,293.61 175.1,293.34 175.9,292.5 176.67,291.99 177.43,291.98 178.2,291.9 179.2,291.9 179.2,297.9" fill="#5cf54e"/>
<polygon points="179.3,297.9 179.3,292.3 180.1,291.86 180.9,292.08 181.7,291.4 182.6,291.36 183.5,290.4 184.35,289.35 185.2,289 186.4,289.6 187.3,288.68 188.2,288.4 189.3,288.1 190.05,288.28 190.8,289 192.2,289.3 193.1,289.93 194,291.1 194.85,291.68 195.7,292.3 196.5,292.79 197.3,292.86 198.1,293.5 198.95,293.95 199.8,295.4 200.6,295.54 201.4,295.71 202.2,296 203.17,296.14 204.13,296.46 205.1,296.3 205.87,296.62 206.63,296.77 207.4,297 208.2,297.16 209,297.3 209.8,297.4 210.57,297.48 211.33,297.7 212.1,297.8 212.1,297.9" fill="#a84fb4" stroke="#c21fc6" stroke-width="0.7" stroke-linejoin="round"/>
<line x1="139.4" y1="297.9" x2="139.4" y2="292.5" stroke="#4a1a08" stroke-width="0.9" />
<polygon points="421.8,297.9 421.8,297.6 424,294.7 426.2,291 428.4,290.3 431.3,285.9 434.3,280 437.2,269.7 439.1,259.4 440.9,244.7 442.1,230 442.6,229.7 444.1,220.9 445.3,210.6 446.8,201.8 447.9,195.9 449,191.6 450.4,200.3 451.9,204 453.4,204.7 454.1,215 455.9,223.8 457.4,230 458.5,244.7 460.7,256.5 462.3,270 464.7,280.3 466.4,283.8 467.6,286.1 468.9,286.7 468.9,297.9" fill="none" stroke="#e0280a" stroke-width="1.3" stroke-linejoin="round"/>
<polygon points="421.8,297.9 421.8,297.6 424,294.7 426.2,291 428.4,290.3 431.3,285.9 434.3,280 437.2,269.7 439.1,259.4 440.9,244.7 442.1,230 442.6,229.7 444.1,220.9 445.3,210.6 446.8,201.8 447.9,195.9 449,191.6 450.4,200.3 451.9,204 453.4,204.7 454.1,215 455.9,223.8 457.4,230 458.5,244.7 460.7,256.5 462.3,270 464.7,280.3 466.4,283.8 467.6,286.1 468.9,286.7 468.9,297.9" fill="#b25a06" stroke="#7a2a08" stroke-width="0.3" stroke-linejoin="round"/>
<polygon points="469,297.9 469,286.7 469.9,289 471.1,290.8 472,292.04 472.9,292.5 473.75,293.52 474.6,293.5 475.5,294.32 476.4,294.3 477.25,293.85 478.1,293.7 479,293.66 479.9,293.9 480.75,293.94 481.6,295.1 482.37,295.49 483.13,295.09 483.9,295.8 484.7,295.22 485.5,295.21 486.3,295.4 487.27,295.24 488.23,295.64 489.2,296 490.17,295.52 491.13,295.39 492.1,295.8 493.07,295.54 494.03,295.57 495,296 495.8,295.67 496.6,295.09 497.4,295.4 498.17,295.53 498.93,294.83 499.7,294.3 500.6,294.11 501.5,294.9 502.35,295.06 503.2,295.8 504,295.51 504.8,295.38 505.6,295.4 506.37,294.76 507.13,295.53 507.9,294.9 508.9,294.9 508.9,297.9" fill="#5cf54e"/>
<polygon points="509,297.9 509,294.6 509.8,295.09 510.6,294.57 511.4,294.6 512.17,294.35 512.93,293.72 513.7,293.9 514.6,293.85 515.5,294.6 516.27,294.34 517.03,294.16 517.8,294.3 518.6,294.9 519.4,294.49 520.2,295.1 521.17,294.77 522.13,295.69 523.1,295.4 524.07,295.56 525.03,295.4 526,295.8 526.97,296.09 527.93,296.09 528.9,296.6 529.7,296.81 530.5,297.14 531.3,297.2 532.07,297.34 532.83,297.37 533.6,297.4 534.37,297.5 535.13,297.66 535.9,297.8 535.9,297.9" fill="#a84fb4" stroke="#c21fc6" stroke-width="0.7" stroke-linejoin="round"/>
<line x1="468.9" y1="297.9" x2="468.9" y2="286.7" stroke="#4a1a08" stroke-width="0.9" />
<line x1="91.3" y1="27.2" x2="138.5" y2="27.2" stroke="#b04646" stroke-width="1" />
<line x1="91.3" y1="24.4" x2="91.3" y2="30.4" stroke="#b04646" stroke-width="1" />
<line x1="138.5" y1="24.4" x2="138.5" y2="30.4" stroke="#b04646" stroke-width="1" />
<text x="91.2" y="23.8" font-size="8.3" font-weight="bold" text-anchor="start" fill="#111" textLength="52.6" lengthAdjust="spacingAndGlyphs">G0G1 61.14 %</text>
<line x1="138.5" y1="83.7" x2="178.7" y2="83.7" stroke="#86e08a" stroke-width="1" />
<line x1="138.5" y1="80.9" x2="138.5" y2="86.9" stroke="#86e08a" stroke-width="1" />
<line x1="178.7" y1="80.9" x2="178.7" y2="86.9" stroke="#86e08a" stroke-width="1" />
<text x="146.5" y="81" font-size="8.3" font-weight="bold" text-anchor="start" fill="#111" textLength="36.3" lengthAdjust="spacingAndGlyphs">S 23.10 %</text>
<line x1="178.8" y1="58.5" x2="226.6" y2="58.5" stroke="#b44ab8" stroke-width="1" />
<line x1="178.8" y1="55.7" x2="178.8" y2="61.7" stroke="#b44ab8" stroke-width="1" />
<line x1="226.6" y1="55.7" x2="226.6" y2="61.7" stroke="#b44ab8" stroke-width="1" />
<text x="179.6" y="53.5" font-size="8.3" font-weight="bold" text-anchor="start" fill="#111" textLength="48.5" lengthAdjust="spacingAndGlyphs">G2M 14.38 %</text>
<line x1="422.9" y1="30" x2="470.3" y2="30" stroke="#b04646" stroke-width="1" />
<line x1="422.9" y1="27.2" x2="422.9" y2="33.2" stroke="#b04646" stroke-width="1" />
<line x1="470.3" y1="27.2" x2="470.3" y2="33.2" stroke="#b04646" stroke-width="1" />
<text x="421.5" y="24.9" font-size="8.3" font-weight="bold" text-anchor="start" fill="#111" textLength="52.9" lengthAdjust="spacingAndGlyphs">G0G1 73.74 %</text>
<line x1="470.3" y1="86.4" x2="510.6" y2="86.4" stroke="#86e08a" stroke-width="1" />
<line x1="470.3" y1="83.6" x2="470.3" y2="89.6" stroke="#86e08a" stroke-width="1" />
<line x1="510.6" y1="83.6" x2="510.6" y2="89.6" stroke="#86e08a" stroke-width="1" />
<text x="474" y="81.5" font-size="8.3" font-weight="bold" text-anchor="start" fill="#111" textLength="36.6" lengthAdjust="spacingAndGlyphs">S 15.09 %</text>
<line x1="510.6" y1="57.5" x2="558.7" y2="57.5" stroke="#b44ab8" stroke-width="1" />
<line x1="510.6" y1="54.7" x2="510.6" y2="60.7" stroke="#b44ab8" stroke-width="1" />
<line x1="558.7" y1="54.7" x2="558.7" y2="60.7" stroke="#b44ab8" stroke-width="1" />
<text x="512.8" y="50.9" font-size="8.3" font-weight="bold" text-anchor="start" fill="#111" textLength="48.8" lengthAdjust="spacingAndGlyphs">G2M 10.08 %</text>
<line x1="92.5" y1="191.5" x2="139.9" y2="191.5" stroke="#b04646" stroke-width="1" />
<line x1="92.5" y1="188.7" x2="92.5" y2="194.7" stroke="#b04646" stroke-width="1" />
<line x1="139.9" y1="188.7" x2="139.9" y2="194.7" stroke="#b04646" stroke-width="1" />
<text x="91.5" y="187.4" font-size="8.3" font-weight="bold" text-anchor="start" fill="#111" textLength="52.5" lengthAdjust="spacingAndGlyphs">G0G1 82.81 %</text>
<line x1="139.6" y1="247.4" x2="179.7" y2="247.4" stroke="#86e08a" stroke-width="1" />
<line x1="139.6" y1="244.6" x2="139.6" y2="250.6" stroke="#86e08a" stroke-width="1" />
<line x1="179.7" y1="244.6" x2="179.7" y2="250.6" stroke="#86e08a" stroke-width="1" />
<text x="142.9" y="242.5" font-size="8.3" font-weight="bold" text-anchor="start" fill="#111" textLength="35.6" lengthAdjust="spacingAndGlyphs">S 10.10 %</text>
<line x1="179.7" y1="218.5" x2="228.2" y2="218.5" stroke="#b44ab8" stroke-width="1" />
<line x1="179.7" y1="215.7" x2="179.7" y2="221.7" stroke="#b44ab8" stroke-width="1" />
<line x1="228.2" y1="215.7" x2="228.2" y2="221.7" stroke="#b44ab8" stroke-width="1" />
<text x="182.9" y="213.8" font-size="8.3" font-weight="bold" text-anchor="start" fill="#111" textLength="44.2" lengthAdjust="spacingAndGlyphs">G2M 6.58 %</text>
<line x1="422.2" y1="190" x2="469.6" y2="190" stroke="#b04646" stroke-width="1" />
<line x1="422.2" y1="187.2" x2="422.2" y2="193.2" stroke="#b04646" stroke-width="1" />
<line x1="469.6" y1="187.2" x2="469.6" y2="193.2" stroke="#b04646" stroke-width="1" />
<text x="421" y="186.8" font-size="8.3" font-weight="bold" text-anchor="start" fill="#111" textLength="50" lengthAdjust="spacingAndGlyphs">G0G1 84.73%</text>
<line x1="469.6" y1="247.4" x2="509.4" y2="247.4" stroke="#86e08a" stroke-width="1" />
<line x1="469.6" y1="244.6" x2="469.6" y2="250.6" stroke="#86e08a" stroke-width="1" />
<line x1="509.4" y1="244.6" x2="509.4" y2="250.6" stroke="#86e08a" stroke-width="1" />
<text x="475.4" y="242.1" font-size="8.3" font-weight="bold" text-anchor="start" fill="#111" textLength="32.4" lengthAdjust="spacingAndGlyphs">S 9.89 %</text>
<line x1="509.4" y1="218.5" x2="557.6" y2="218.5" stroke="#b44ab8" stroke-width="1" />
<line x1="509.4" y1="215.7" x2="509.4" y2="221.7" stroke="#b44ab8" stroke-width="1" />
<line x1="557.6" y1="215.7" x2="557.6" y2="221.7" stroke="#b44ab8" stroke-width="1" />
<text x="512.4" y="212.9" font-size="8.3" font-weight="bold" text-anchor="start" fill="#111" textLength="42.3" lengthAdjust="spacingAndGlyphs">G2M 4.92%</text>
<text x="2.6" y="13.6" font-size="16.2" font-weight="bold" text-anchor="start" fill="#000">A</text>
<text x="6.2" y="348.4" font-size="12.3" font-weight="bold" text-anchor="start" fill="#000">B</text>
<text x="200.4" y="347.1" font-size="13.2" font-weight="bold" text-anchor="start" fill="#000">C</text>
<text x="362.7" y="347.6" font-size="13.4" font-weight="bold" text-anchor="start" fill="#000">D</text>
<text x="529.5" y="348.4" font-size="12.8" font-weight="bold" text-anchor="start" fill="#000">E</text>
<line x1="38.4" y1="351.6" x2="38.4" y2="449.9" stroke="#000" stroke-width="1.8" />
<line x1="37.5" y1="449.1" x2="182.8" y2="449.1" stroke="#000" stroke-width="1.8" />
<line x1="34" y1="449.1" x2="38.4" y2="449.1" stroke="#000" stroke-width="1.4" />
<text x="32.4" y="451.35" font-size="6.4" font-weight="bold" text-anchor="end" fill="#000" textLength="3.7" lengthAdjust="spacingAndGlyphs">0</text>
<line x1="34" y1="429.76" x2="38.4" y2="429.76" stroke="#000" stroke-width="1.4" />
<text x="32.4" y="432.01" font-size="6.4" font-weight="bold" text-anchor="end" fill="#000" textLength="7.4" lengthAdjust="spacingAndGlyphs">20</text>
<line x1="34" y1="410.42" x2="38.4" y2="410.42" stroke="#000" stroke-width="1.4" />
<text x="32.4" y="412.67" font-size="6.4" font-weight="bold" text-anchor="end" fill="#000" textLength="7.4" lengthAdjust="spacingAndGlyphs">40</text>
<line x1="34" y1="391.08" x2="38.4" y2="391.08" stroke="#000" stroke-width="1.4" />
<text x="32.4" y="393.33" font-size="6.4" font-weight="bold" text-anchor="end" fill="#000" textLength="7.4" lengthAdjust="spacingAndGlyphs">60</text>
<line x1="34" y1="371.74" x2="38.4" y2="371.74" stroke="#000" stroke-width="1.4" />
<text x="32.4" y="373.99" font-size="6.4" font-weight="bold" text-anchor="end" fill="#000" textLength="7.4" lengthAdjust="spacingAndGlyphs">80</text>
<line x1="34" y1="352.4" x2="38.4" y2="352.4" stroke="#000" stroke-width="1.4" />
<text x="32.4" y="354.65" font-size="6.4" font-weight="bold" text-anchor="end" fill="#000" textLength="11.1" lengthAdjust="spacingAndGlyphs">100</text>
<line x1="62.6" y1="449.1" x2="62.6" y2="453.5" stroke="#000" stroke-width="1.6" />
<rect x="43.51" y="389.98" width="9.32" height="59.12" fill="#800080"/>
<line x1="48.17" y1="388.04" x2="48.17" y2="391.91" stroke="#262626" stroke-width="0.85" />
<line x1="45.67" y1="388.04" x2="50.67" y2="388.04" stroke="#262626" stroke-width="0.85" />
<line x1="45.67" y1="391.91" x2="50.67" y2="391.91" stroke="#262626" stroke-width="0.85" />
<rect x="53.13" y="377.79" width="9.32" height="71.31" fill="#f04fd8"/>
<line x1="57.79" y1="377.02" x2="57.79" y2="378.57" stroke="#262626" stroke-width="0.85" />
<line x1="55.29" y1="377.02" x2="60.29" y2="377.02" stroke="#262626" stroke-width="0.85" />
<line x1="55.29" y1="378.57" x2="60.29" y2="378.57" stroke="#262626" stroke-width="0.85" />
<rect x="62.75" y="369.02" width="9.32" height="80.08" fill="#8c8cf8"/>
<line x1="67.41" y1="366.12" x2="67.41" y2="371.92" stroke="#262626" stroke-width="0.85" />
<line x1="64.91" y1="366.12" x2="69.91" y2="366.12" stroke="#262626" stroke-width="0.85" />
<line x1="64.91" y1="371.92" x2="69.91" y2="371.92" stroke="#262626" stroke-width="0.85" />
<rect x="72.37" y="367.17" width="9.32" height="81.93" fill="#ff0000"/>
<line x1="77.03" y1="364.07" x2="77.03" y2="370.26" stroke="#262626" stroke-width="0.85" />
<line x1="74.53" y1="364.07" x2="79.53" y2="364.07" stroke="#262626" stroke-width="0.85" />
<line x1="74.53" y1="370.26" x2="79.53" y2="370.26" stroke="#262626" stroke-width="0.85" />
<line x1="111" y1="449.1" x2="111" y2="453.5" stroke="#000" stroke-width="1.6" />
<rect x="91.91" y="426.76" width="9.32" height="22.34" fill="#800080"/>
<line x1="96.57" y1="423.09" x2="96.57" y2="430.44" stroke="#262626" stroke-width="0.85" />
<line x1="94.07" y1="423.09" x2="99.07" y2="423.09" stroke="#262626" stroke-width="0.85" />
<line x1="94.07" y1="430.44" x2="99.07" y2="430.44" stroke="#262626" stroke-width="0.85" />
<rect x="101.53" y="434.51" width="9.32" height="14.59" fill="#f04fd8"/>
<line x1="106.19" y1="432.38" x2="106.19" y2="436.64" stroke="#262626" stroke-width="0.85" />
<line x1="103.69" y1="432.38" x2="108.69" y2="432.38" stroke="#262626" stroke-width="0.85" />
<line x1="103.69" y1="436.64" x2="108.69" y2="436.64" stroke="#262626" stroke-width="0.85" />
<rect x="111.15" y="439.33" width="9.32" height="9.77" fill="#8c8cf8"/>
<line x1="115.81" y1="436.43" x2="115.81" y2="442.23" stroke="#262626" stroke-width="0.85" />
<line x1="113.31" y1="436.43" x2="118.31" y2="436.43" stroke="#262626" stroke-width="0.85" />
<line x1="113.31" y1="442.23" x2="118.31" y2="442.23" stroke="#262626" stroke-width="0.85" />
<rect x="120.77" y="439.54" width="9.32" height="9.56" fill="#ff0000"/>
<line x1="125.43" y1="436.73" x2="125.43" y2="442.34" stroke="#262626" stroke-width="0.85" />
<line x1="122.93" y1="436.73" x2="127.93" y2="436.73" stroke="#262626" stroke-width="0.85" />
<line x1="122.93" y1="442.34" x2="127.93" y2="442.34" stroke="#262626" stroke-width="0.85" />
<line x1="159.4" y1="449.1" x2="159.4" y2="453.5" stroke="#000" stroke-width="1.6" />
<rect x="140.31" y="435.19" width="9.32" height="13.91" fill="#800080"/>
<line x1="144.97" y1="432.1" x2="144.97" y2="438.29" stroke="#262626" stroke-width="0.85" />
<line x1="142.47" y1="432.1" x2="147.47" y2="432.1" stroke="#262626" stroke-width="0.85" />
<line x1="142.47" y1="438.29" x2="147.47" y2="438.29" stroke="#262626" stroke-width="0.85" />
<rect x="149.93" y="439.35" width="9.32" height="9.75" fill="#f04fd8"/>
<line x1="154.59" y1="437.42" x2="154.59" y2="441.29" stroke="#262626" stroke-width="0.85" />
<line x1="152.09" y1="437.42" x2="157.09" y2="437.42" stroke="#262626" stroke-width="0.85" />
<line x1="152.09" y1="441.29" x2="157.09" y2="441.29" stroke="#262626" stroke-width="0.85" />
<rect x="159.55" y="442.74" width="9.32" height="6.36" fill="#8c8cf8"/>
<line x1="164.21" y1="441.58" x2="164.21" y2="443.9" stroke="#262626" stroke-width="0.85" />
<line x1="161.71" y1="441.58" x2="166.71" y2="441.58" stroke="#262626" stroke-width="0.85" />
<line x1="161.71" y1="443.9" x2="166.71" y2="443.9" stroke="#262626" stroke-width="0.85" />
<rect x="169.17" y="444.34" width="9.32" height="4.76" fill="#ff0000"/>
<line x1="173.83" y1="443.18" x2="173.83" y2="445.5" stroke="#262626" stroke-width="0.85" />
<line x1="171.33" y1="443.18" x2="176.33" y2="443.18" stroke="#262626" stroke-width="0.85" />
<line x1="171.33" y1="445.5" x2="176.33" y2="445.5" stroke="#262626" stroke-width="0.85" />
<text x="62.6" y="461.4" font-size="7.1" font-weight="bold" text-anchor="middle" fill="#000" textLength="20.6" lengthAdjust="spacingAndGlyphs">G0/G1</text>
<text x="110.8" y="461.4" font-size="7.1" font-weight="bold" text-anchor="middle" fill="#000">S</text>
<text x="159.2" y="461.4" font-size="7.1" font-weight="bold" text-anchor="middle" fill="#000" textLength="17.6" lengthAdjust="spacingAndGlyphs">G2/M</text>
<text x="57.8" y="374.38" font-size="9" font-weight="bold" text-anchor="middle" fill="#000" textLength="4.03" lengthAdjust="spacingAndGlyphs">*</text>
<text x="67.4" y="365.08" font-size="9" font-weight="bold" text-anchor="middle" fill="#000" textLength="7.92" lengthAdjust="spacingAndGlyphs">**</text>
<text x="78.8" y="363.48" font-size="9" font-weight="bold" text-anchor="middle" fill="#000" textLength="7.92" lengthAdjust="spacingAndGlyphs">**</text>
<text x="7.2" y="400" font-size="7.8" font-weight="bold" text-anchor="middle" fill="#000" transform="rotate(-90 7.2 400)" textLength="59" lengthAdjust="spacingAndGlyphs">Number of cell</text>
<text x="16" y="400.4" font-size="7.8" font-weight="bold" text-anchor="middle" fill="#000" transform="rotate(-90 16 400.4)" textLength="67.4" lengthAdjust="spacingAndGlyphs">in each phase (%)</text>
<rect x="111.2" y="355" width="5.9" height="4.9" fill="#800080"/>
<text x="125.1" y="359.5" font-size="8.1" font-weight="normal" text-anchor="start" fill="#111">Glucose 5.5 mM</text>
<rect x="111.2" y="367.9" width="5.9" height="4.9" fill="#f04fd8"/>
<text x="125.1" y="372.4" font-size="8.1" font-weight="normal" text-anchor="start" fill="#111">Glucose 10 mM</text>
<rect x="111.2" y="380.8" width="5.9" height="4.9" fill="#8c8cf8"/>
<text x="125.1" y="385.3" font-size="8.1" font-weight="normal" text-anchor="start" fill="#111">Glucose 25 mM</text>
<rect x="111.2" y="393.7" width="5.9" height="4.9" fill="#ff0000"/>
<text x="125.1" y="398.2" font-size="8.1" font-weight="normal" text-anchor="start" fill="#111">Glucose 40 mM</text>
<line x1="226.9" y1="348.2" x2="226.9" y2="449.8" stroke="#000" stroke-width="1.8" />
<line x1="226" y1="449" x2="346.4" y2="449" stroke="#000" stroke-width="1.8" />
<line x1="222.4" y1="449" x2="226.9" y2="449" stroke="#000" stroke-width="1.4" />
<text x="221" y="452" font-size="6.6" font-weight="bold" text-anchor="end" fill="#000" textLength="3.5" lengthAdjust="spacingAndGlyphs">0</text>
<line x1="222.4" y1="429" x2="226.9" y2="429" stroke="#000" stroke-width="1.4" />
<text x="221" y="432" font-size="6.6" font-weight="bold" text-anchor="end" fill="#000" textLength="7" lengthAdjust="spacingAndGlyphs">10</text>
<line x1="222.4" y1="409" x2="226.9" y2="409" stroke="#000" stroke-width="1.4" />
<text x="221" y="412" font-size="6.6" font-weight="bold" text-anchor="end" fill="#000" textLength="7" lengthAdjust="spacingAndGlyphs">20</text>
<line x1="222.4" y1="389" x2="226.9" y2="389" stroke="#000" stroke-width="1.4" />
<text x="221" y="392" font-size="6.6" font-weight="bold" text-anchor="end" fill="#000" textLength="7" lengthAdjust="spacingAndGlyphs">30</text>
<line x1="222.4" y1="369" x2="226.9" y2="369" stroke="#000" stroke-width="1.4" />
<text x="221" y="372" font-size="6.6" font-weight="bold" text-anchor="end" fill="#000" textLength="7" lengthAdjust="spacingAndGlyphs">40</text>
<line x1="222.4" y1="349" x2="226.9" y2="349" stroke="#000" stroke-width="1.4" />
<text x="221" y="352" font-size="6.6" font-weight="bold" text-anchor="end" fill="#000" textLength="7" lengthAdjust="spacingAndGlyphs">50</text>
<line x1="241.8" y1="449" x2="241.8" y2="453.6" stroke="#000" stroke-width="1.6" />
<rect x="232.35" y="373" width="19.5" height="76" fill="#800080"/>
<line x1="242.1" y1="369.2" x2="242.1" y2="376.8" stroke="#262626" stroke-width="0.9" />
<line x1="237.5" y1="369.2" x2="246.7" y2="369.2" stroke="#262626" stroke-width="0.9" />
<line x1="237.5" y1="376.8" x2="246.7" y2="376.8" stroke="#262626" stroke-width="0.9" />
<line x1="271.6" y1="449" x2="271.6" y2="453.6" stroke="#000" stroke-width="1.6" />
<rect x="261.75" y="397" width="19.5" height="52" fill="#f04fd8"/>
<line x1="271.5" y1="394.8" x2="271.5" y2="399.2" stroke="#262626" stroke-width="0.9" />
<line x1="266.9" y1="394.8" x2="276.1" y2="394.8" stroke="#262626" stroke-width="0.9" />
<line x1="266.9" y1="399.2" x2="276.1" y2="399.2" stroke="#262626" stroke-width="0.9" />
<line x1="301.3" y1="449" x2="301.3" y2="453.6" stroke="#000" stroke-width="1.6" />
<rect x="291.35" y="414" width="19.5" height="35" fill="#8c8cf8"/>
<line x1="301.1" y1="408.4" x2="301.1" y2="419.6" stroke="#262626" stroke-width="0.9" />
<line x1="296.5" y1="408.4" x2="305.7" y2="408.4" stroke="#262626" stroke-width="0.9" />
<line x1="296.5" y1="419.6" x2="305.7" y2="419.6" stroke="#262626" stroke-width="0.9" />
<line x1="331" y1="449" x2="331" y2="453.6" stroke="#000" stroke-width="1.6" />
<rect x="320.85" y="421.4" width="19.5" height="27.6" fill="#ff0000"/>
<line x1="330.6" y1="418" x2="330.6" y2="424.8" stroke="#262626" stroke-width="0.9" />
<line x1="326" y1="418" x2="335.2" y2="418" stroke="#262626" stroke-width="0.9" />
<line x1="326" y1="424.8" x2="335.2" y2="424.8" stroke="#262626" stroke-width="0.9" />
<text x="241.4" y="461.3" font-size="7" font-weight="bold" text-anchor="middle" fill="#000" textLength="9.4" lengthAdjust="spacingAndGlyphs">5.5</text>
<text x="271.2" y="461.3" font-size="7" font-weight="bold" text-anchor="middle" fill="#000" textLength="7.2" lengthAdjust="spacingAndGlyphs">10</text>
<text x="301" y="461.3" font-size="7" font-weight="bold" text-anchor="middle" fill="#000" textLength="7.2" lengthAdjust="spacingAndGlyphs">25</text>
<text x="330.8" y="461.3" font-size="7" font-weight="bold" text-anchor="middle" fill="#000" textLength="7.2" lengthAdjust="spacingAndGlyphs">40</text>
<text x="271.8" y="396" font-size="12.5" font-weight="bold" text-anchor="middle" fill="#000" textLength="5.6" lengthAdjust="spacingAndGlyphs">*</text>
<text x="301" y="408.1" font-size="12.5" font-weight="bold" text-anchor="middle" fill="#000" textLength="5.6" lengthAdjust="spacingAndGlyphs">*</text>
<text x="330.6" y="418.6" font-size="12.5" font-weight="bold" text-anchor="middle" fill="#000" textLength="5.6" lengthAdjust="spacingAndGlyphs">*</text>
<text x="285" y="471.7" font-size="8.4" font-weight="bold" text-anchor="middle" fill="#000" textLength="79.7" lengthAdjust="spacingAndGlyphs">Glucose conc. (mM)</text>
<text x="209.5" y="398.2" font-size="8" font-weight="bold" text-anchor="middle" fill="#000" transform="rotate(-90 209.5 398.2)" textLength="87.6" lengthAdjust="spacingAndGlyphs">Proliferation index (%)</text>
<line x1="397.5" y1="348.2" x2="397.5" y2="450" stroke="#000" stroke-width="1.8" />
<line x1="396.6" y1="449.2" x2="517.6" y2="449.2" stroke="#000" stroke-width="1.8" />
<line x1="392.7" y1="449.2" x2="397.5" y2="449.2" stroke="#000" stroke-width="1.4" />
<text x="391.1" y="452.2" font-size="6.5" font-weight="bold" text-anchor="end" fill="#000" textLength="12.6" lengthAdjust="spacingAndGlyphs">0.00</text>
<line x1="392.7" y1="429" x2="397.5" y2="429" stroke="#000" stroke-width="1.4" />
<text x="391.1" y="432" font-size="6.5" font-weight="bold" text-anchor="end" fill="#000" textLength="12.6" lengthAdjust="spacingAndGlyphs">0.25</text>
<line x1="392.7" y1="408.8" x2="397.5" y2="408.8" stroke="#000" stroke-width="1.4" />
<text x="391.1" y="411.8" font-size="6.5" font-weight="bold" text-anchor="end" fill="#000" textLength="12.6" lengthAdjust="spacingAndGlyphs">0.50</text>
<line x1="392.7" y1="388.6" x2="397.5" y2="388.6" stroke="#000" stroke-width="1.4" />
<text x="391.1" y="391.6" font-size="6.5" font-weight="bold" text-anchor="end" fill="#000" textLength="12.6" lengthAdjust="spacingAndGlyphs">0.75</text>
<line x1="392.7" y1="368.4" x2="397.5" y2="368.4" stroke="#000" stroke-width="1.4" />
<text x="391.1" y="371.4" font-size="6.5" font-weight="bold" text-anchor="end" fill="#000" textLength="12.6" lengthAdjust="spacingAndGlyphs">1.00</text>
<line x1="392.7" y1="348.2" x2="397.5" y2="348.2" stroke="#000" stroke-width="1.4" />
<text x="391.1" y="351.2" font-size="6.5" font-weight="bold" text-anchor="end" fill="#000" textLength="12.6" lengthAdjust="spacingAndGlyphs">1.25</text>
<line x1="412.6" y1="449.2" x2="412.6" y2="453.8" stroke="#000" stroke-width="1.6" />
<rect x="402.75" y="368.4" width="19.7" height="80.8" fill="#800080"/>
<line x1="407.8" y1="368.9" x2="417.4" y2="368.9" stroke="#2a002a" stroke-width="1" />
<text x="412.2" y="461.2" font-size="7" font-weight="bold" text-anchor="middle" fill="#000" textLength="9" lengthAdjust="spacingAndGlyphs">5.5</text>
<line x1="442.32" y1="449.2" x2="442.32" y2="453.8" stroke="#000" stroke-width="1.6" />
<rect x="432.47" y="403.14" width="19.7" height="46.06" fill="#f04fd8"/>
<line x1="442.32" y1="395.47" x2="442.32" y2="409.61" stroke="#262626" stroke-width="0.9" />
<line x1="437.52" y1="395.47" x2="447.12" y2="395.47" stroke="#262626" stroke-width="0.9" />
<line x1="437.52" y1="409.61" x2="447.12" y2="409.61" stroke="#262626" stroke-width="0.9" />
<text x="441.92" y="461.2" font-size="7" font-weight="bold" text-anchor="middle" fill="#000" textLength="7.3" lengthAdjust="spacingAndGlyphs">10</text>
<line x1="472.04" y1="449.2" x2="472.04" y2="453.8" stroke="#000" stroke-width="1.6" />
<rect x="462.19" y="424.15" width="19.7" height="25.05" fill="#8c8cf8"/>
<line x1="472.04" y1="421.32" x2="472.04" y2="426.17" stroke="#262626" stroke-width="0.9" />
<line x1="467.24" y1="421.32" x2="476.84" y2="421.32" stroke="#262626" stroke-width="0.9" />
<line x1="467.24" y1="426.17" x2="476.84" y2="426.17" stroke="#262626" stroke-width="0.9" />
<text x="471.64" y="461.2" font-size="7" font-weight="bold" text-anchor="middle" fill="#000" textLength="7.3" lengthAdjust="spacingAndGlyphs">25</text>
<line x1="501.76" y1="449.2" x2="501.76" y2="453.8" stroke="#000" stroke-width="1.6" />
<rect x="491.91" y="431.02" width="19.7" height="18.18" fill="#ff0000"/>
<line x1="501.76" y1="429" x2="501.76" y2="433.04" stroke="#262626" stroke-width="0.9" />
<line x1="496.96" y1="429" x2="506.56" y2="429" stroke="#262626" stroke-width="0.9" />
<line x1="496.96" y1="433.04" x2="506.56" y2="433.04" stroke="#262626" stroke-width="0.9" />
<text x="501.36" y="461.2" font-size="7" font-weight="bold" text-anchor="middle" fill="#000" textLength="7.3" lengthAdjust="spacingAndGlyphs">40</text>
<text x="443.22" y="397.2" font-size="12.5" font-weight="bold" text-anchor="middle" fill="#000" textLength="5.6" lengthAdjust="spacingAndGlyphs">*</text>
<text x="472.94" y="420.6" font-size="12.5" font-weight="bold" text-anchor="middle" fill="#000" textLength="11" lengthAdjust="spacingAndGlyphs">**</text>
<text x="502.66" y="429.8" font-size="12.5" font-weight="bold" text-anchor="middle" fill="#000" textLength="11" lengthAdjust="spacingAndGlyphs">**</text>
<text x="457.8" y="471.6" font-size="8.4" font-weight="bold" text-anchor="middle" fill="#000" textLength="79.4" lengthAdjust="spacingAndGlyphs">Glucose conc. (mM)</text>
<text x="372.6" y="398.2" font-size="7.9" font-weight="bold" text-anchor="middle" fill="#000" transform="rotate(-90 372.6 398.2)" textLength="79.4" lengthAdjust="spacingAndGlyphs">Relative mRNA level</text>
<text x="442.4" y="355.6" font-size="10.2" font-weight="bold" text-anchor="start" fill="#000" font-style="italic" textLength="34.4" lengthAdjust="spacingAndGlyphs">CCND1</text>
<line x1="563.5" y1="348.2" x2="563.5" y2="450" stroke="#000" stroke-width="1.8" />
<line x1="562.6" y1="449.2" x2="682.8" y2="449.2" stroke="#000" stroke-width="1.8" />
<line x1="558.7" y1="449.2" x2="563.5" y2="449.2" stroke="#000" stroke-width="1.4" />
<text x="557.1" y="452.2" font-size="6.5" font-weight="bold" text-anchor="end" fill="#000" textLength="12.6" lengthAdjust="spacingAndGlyphs">0.00</text>
<line x1="558.7" y1="429" x2="563.5" y2="429" stroke="#000" stroke-width="1.4" />
<text x="557.1" y="432" font-size="6.5" font-weight="bold" text-anchor="end" fill="#000" textLength="12.6" lengthAdjust="spacingAndGlyphs">0.25</text>
<line x1="558.7" y1="408.8" x2="563.5" y2="408.8" stroke="#000" stroke-width="1.4" />
<text x="557.1" y="411.8" font-size="6.5" font-weight="bold" text-anchor="end" fill="#000" textLength="12.6" lengthAdjust="spacingAndGlyphs">0.50</text>
<line x1="558.7" y1="388.6" x2="563.5" y2="388.6" stroke="#000" stroke-width="1.4" />
<text x="557.1" y="391.6" font-size="6.5" font-weight="bold" text-anchor="end" fill="#000" textLength="12.6" lengthAdjust="spacingAndGlyphs">0.75</text>
<line x1="558.7" y1="368.4" x2="563.5" y2="368.4" stroke="#000" stroke-width="1.4" />
<text x="557.1" y="371.4" font-size="6.5" font-weight="bold" text-anchor="end" fill="#000" textLength="12.6" lengthAdjust="spacingAndGlyphs">1.00</text>
<line x1="558.7" y1="348.2" x2="563.5" y2="348.2" stroke="#000" stroke-width="1.4" />
<text x="557.1" y="351.2" font-size="6.5" font-weight="bold" text-anchor="end" fill="#000" textLength="12.6" lengthAdjust="spacingAndGlyphs">1.25</text>
<line x1="578.3" y1="449.2" x2="578.3" y2="453.8" stroke="#000" stroke-width="1.6" />
<rect x="568.45" y="368.4" width="19.7" height="80.8" fill="#800080"/>
<line x1="573.5" y1="368.9" x2="583.1" y2="368.9" stroke="#2a002a" stroke-width="1" />
<text x="577.9" y="461.2" font-size="7" font-weight="bold" text-anchor="middle" fill="#000" textLength="9" lengthAdjust="spacingAndGlyphs">5.5</text>
<line x1="608.02" y1="449.2" x2="608.02" y2="453.8" stroke="#000" stroke-width="1.6" />
<rect x="598.17" y="393.45" width="19.7" height="55.75" fill="#f04fd8"/>
<line x1="608.02" y1="383.75" x2="608.02" y2="402.34" stroke="#262626" stroke-width="0.9" />
<line x1="603.22" y1="383.75" x2="612.82" y2="383.75" stroke="#262626" stroke-width="0.9" />
<line x1="603.22" y1="402.34" x2="612.82" y2="402.34" stroke="#262626" stroke-width="0.9" />
<text x="607.62" y="461.2" font-size="7" font-weight="bold" text-anchor="middle" fill="#000" textLength="7.3" lengthAdjust="spacingAndGlyphs">10</text>
<line x1="637.74" y1="449.2" x2="637.74" y2="453.8" stroke="#000" stroke-width="1.6" />
<rect x="627.89" y="405.57" width="19.7" height="43.63" fill="#8c8cf8"/>
<line x1="637.74" y1="399.1" x2="637.74" y2="412.44" stroke="#262626" stroke-width="0.9" />
<line x1="632.94" y1="399.1" x2="642.54" y2="399.1" stroke="#262626" stroke-width="0.9" />
<line x1="632.94" y1="412.44" x2="642.54" y2="412.44" stroke="#262626" stroke-width="0.9" />
<text x="637.34" y="461.2" font-size="7" font-weight="bold" text-anchor="middle" fill="#000" textLength="7.3" lengthAdjust="spacingAndGlyphs">25</text>
<line x1="667.46" y1="449.2" x2="667.46" y2="453.8" stroke="#000" stroke-width="1.6" />
<rect x="657.61" y="419.3" width="19.7" height="29.9" fill="#ff0000"/>
<line x1="667.46" y1="412.03" x2="667.46" y2="426.01" stroke="#262626" stroke-width="0.9" />
<line x1="662.66" y1="412.03" x2="672.26" y2="412.03" stroke="#262626" stroke-width="0.9" />
<line x1="662.66" y1="426.01" x2="672.26" y2="426.01" stroke="#262626" stroke-width="0.9" />
<text x="667.06" y="461.2" font-size="7" font-weight="bold" text-anchor="middle" fill="#000" textLength="7.3" lengthAdjust="spacingAndGlyphs">40</text>
<text x="638.64" y="399.4" font-size="12.5" font-weight="bold" text-anchor="middle" fill="#000" textLength="5.6" lengthAdjust="spacingAndGlyphs">*</text>
<text x="668.36" y="413.2" font-size="12.5" font-weight="bold" text-anchor="middle" fill="#000" textLength="11" lengthAdjust="spacingAndGlyphs">**</text>
<text x="622.9" y="471.6" font-size="8.4" font-weight="bold" text-anchor="middle" fill="#000" textLength="79.4" lengthAdjust="spacingAndGlyphs">Glucose conc. (mM)</text>
<text x="539.2" y="398.2" font-size="7.9" font-weight="bold" text-anchor="middle" fill="#000" transform="rotate(-90 539.2 398.2)" textLength="79.4" lengthAdjust="spacingAndGlyphs">Relative mRNA level</text>
<text x="605.9" y="355.6" font-size="10.2" font-weight="bold" text-anchor="start" fill="#000" font-style="italic" textLength="37.8" lengthAdjust="spacingAndGlyphs">LMNB1</text>
</svg>
</body></html>
